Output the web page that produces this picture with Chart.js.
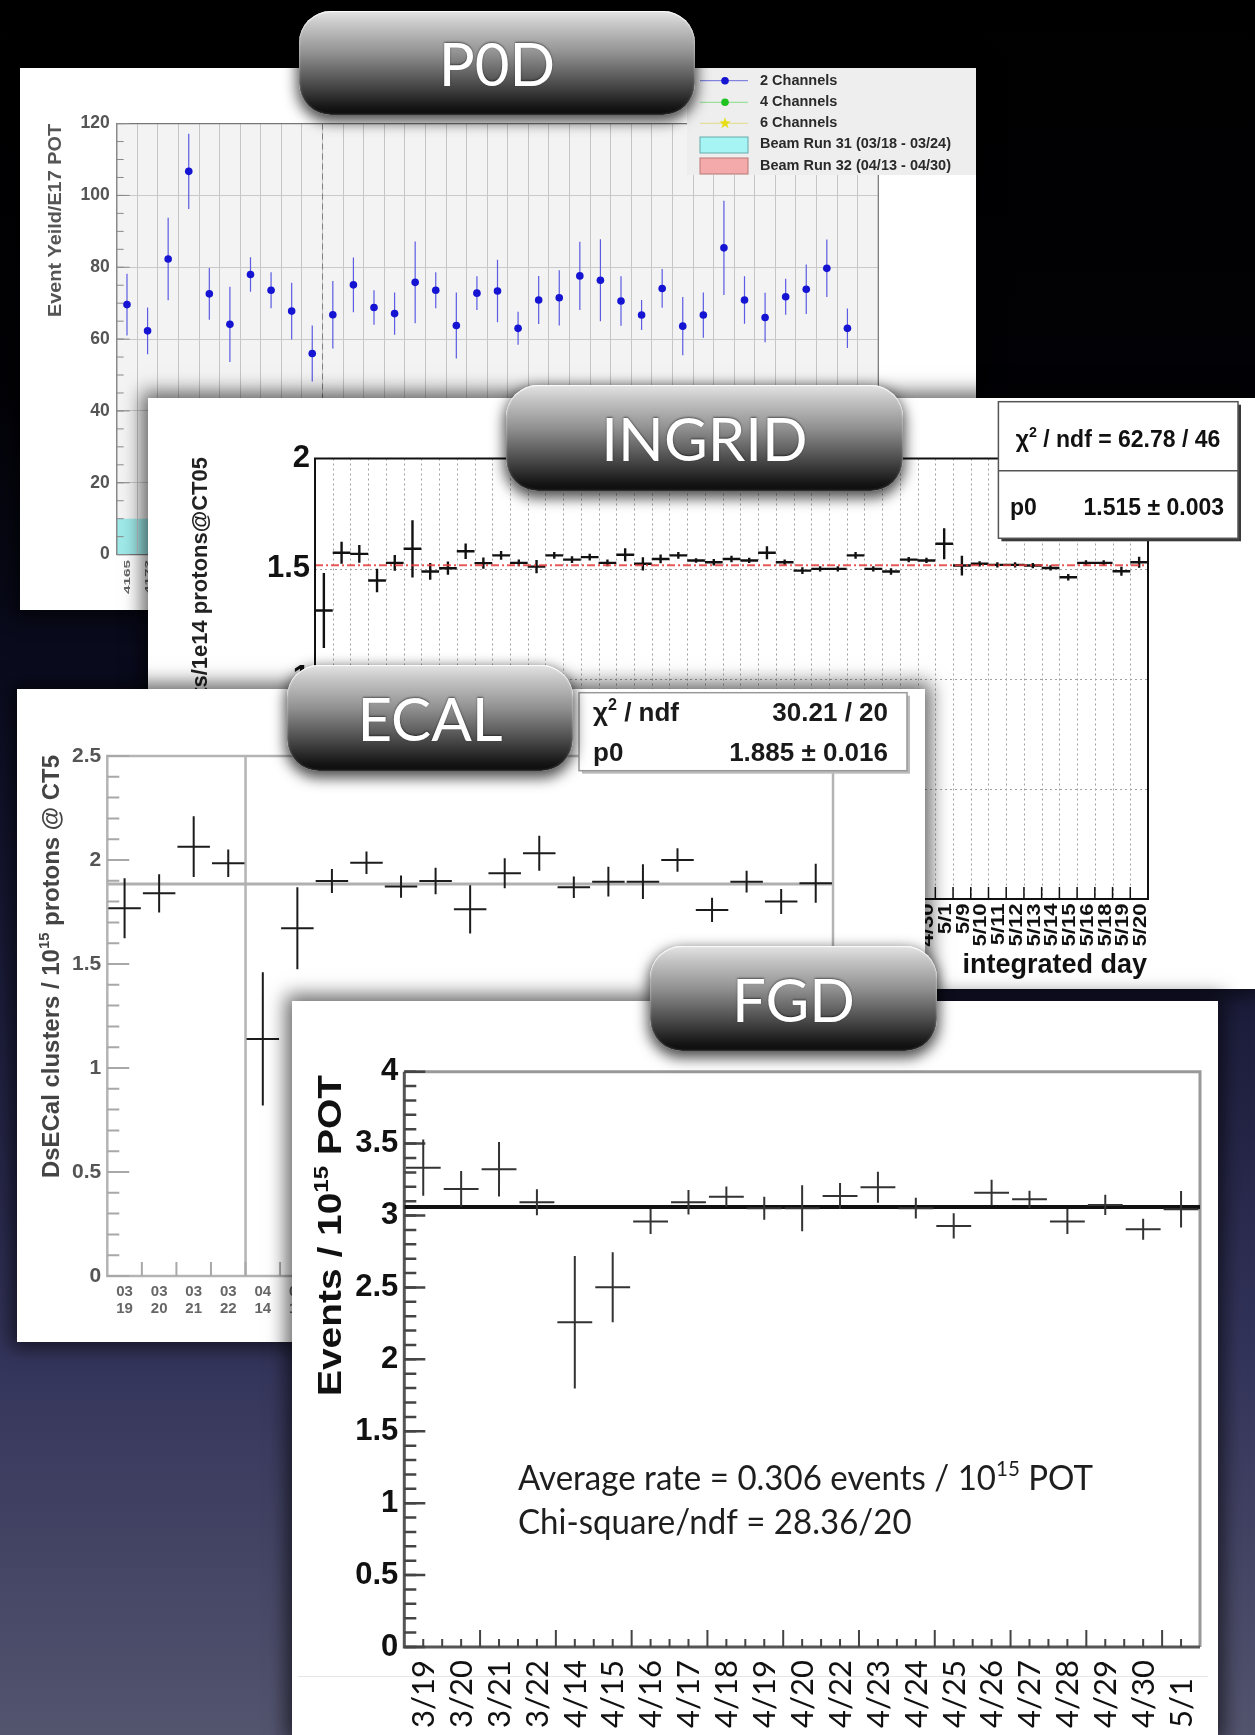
<!DOCTYPE html>
<html lang="en">
<head>
<meta charset="utf-8">
<title>Beam stability: P0D, INGRID, ECAL, FGD</title>
<script src="https://cdn.jsdelivr.net/npm/chart.js@4.4.1/dist/chart.umd.min.js"></script>
<style>
  html, body { margin: 0; padding: 0; }
  body {
    position: relative; width: 1255px; height: 1735px; overflow: hidden;
    background: linear-gradient(180deg, #000000 0%, #020206 22%, #0b0c20 40%, #1c1d3b 58%, #33345a 78%, #53546e 100%);
  }
  .panel { position: absolute; background: #ffffff; box-shadow: 0 0 18px 6px rgba(0, 0, 0, 0.6); }
  .panel canvas { position: absolute; left: 0; top: 0; }
  .pill {
    position: absolute; box-sizing: border-box; border-radius: 32px;
    background: linear-gradient(180deg, #e4e4e4 0%, #c4c4c4 14%, #929292 40%, #4c4c4c 70%, #171717 92%, #0a0a0a 100%);
    box-shadow: 0 5px 14px 2px rgba(0, 0, 0, 0.7), inset 0 1px 1px rgba(255, 255, 255, 0.9), inset 0 0 3px rgba(255, 255, 255, 0.4);
    color: #ffffff; font-family: Lato, "Open Sans", sans-serif; font-size: 60px; line-height: 1;
    display: flex; align-items: center; justify-content: center;
    text-shadow: 0 -1px 2px rgba(0, 0, 0, 0.5);
  }
</style>
</head>
<body>
<div class="panel" style="left:20px;top:68px;width:956px;height:542px"><canvas id="p0d" width="956" height="542"></canvas></div>
<div class="pill" style="left:299px;top:11px;width:396px;height:104px">P0D</div>
<div class="panel" style="left:148px;top:398px;width:1107px;height:591px"><canvas id="ingrid" width="1107" height="591"></canvas></div>
<div class="pill" style="left:506px;top:385px;width:397px;height:106px">INGRID</div>
<div class="panel" style="left:17px;top:689px;width:908px;height:653px"><canvas id="ecal" width="908" height="653"></canvas></div>
<div class="pill" style="left:287px;top:665px;width:286px;height:106px">ECAL</div>
<div class="panel" style="left:292px;top:1001px;width:926px;height:734px"><canvas id="fgd" width="926" height="734"></canvas></div>
<div class="pill" style="left:650px;top:946px;width:287px;height:105px">FGD</div>

<script>
const SANS = '"Liberation Sans", Arial, Helvetica, sans-serif';
const HUMANIST = 'Lato, "Open Sans", sans-serif';

/* ---------- P0D: event yield per run (2-channel selection) ---------- */
const p0dValues = [69.6, 62.3, 82.3, 106.7, 72.6, 64.1, 78.0, 73.6, 67.8, 56.0,
                   66.8, 75.1, 68.8, 67.1, 75.8, 73.6, 63.8, 72.8, 73.4, 63.0,
                   70.9, 71.5, 77.6, 76.4, 70.6, 66.7, 74.1, 63.6, 66.7, 85.4,
                   70.9, 66.0, 71.8, 73.9, 79.7, 63.0];
const p0dErrors = [8.6, 6.5, 11.5, 10.5, 7.2, 10.5, 4.8, 5.0, 7.9, 7.8,
                   9.4, 7.6, 4.8, 5.9, 11.4, 5.0, 9.2, 4.7, 8.7, 4.6,
                   6.7, 7.7, 9.5, 11.4, 6.9, 4.2, 5.4, 8.1, 6.3, 13.1,
                   6.6, 6.9, 5.0, 6.9, 8.0, 5.5];
const p0dRunLabels = ['4165', '4173'];
const p0dBinCount = 37;
const p0dRun31 = [0, 10];
const p0dRun32 = [10, 36];
const p0dBandTop = 10;
const p0dLegendLabels = ['2 Channels', '4 Channels', '6 Channels',
                         'Beam Run 31 (03/18 - 03/24)', 'Beam Run 32 (04/13 - 04/30)'];

/* ---------- INGRID: events per 1e14 protons, per day ---------- */
const ingridDays = ['3/18', '3/19', '3/20', '3/21', '3/22', '3/23', '3/24',
  '4/3', '4/4', '4/5', '4/6', '4/7', '4/8', '4/9', '4/10', '4/11', '4/12', '4/13', '4/14',
  '4/15', '4/16', '4/17', '4/18', '4/19', '4/20', '4/21', '4/22', '4/23', '4/24', '4/25',
  '4/26', '4/27', '4/28', '4/29', '4/30', '5/1', '5/9', '5/10', '5/11', '5/12', '5/13',
  '5/14', '5/15', '5/16', '5/18', '5/19', '5/20'];
const ingridValues = [1.31, 1.572, 1.567, 1.446, 1.526, 1.590, 1.487, 1.502, 1.579, 1.525,
                      1.560, 1.526, 1.509, 1.560, 1.541, 1.552, 1.526, 1.563, 1.522, 1.544,
                      1.560, 1.537, 1.529, 1.544, 1.537, 1.572, 1.529, 1.491, 1.499, 1.499,
                      1.560, 1.499, 1.487, 1.541, 1.537, 1.613, 1.514, 1.522, 1.517, 1.517,
                      1.514, 1.503, 1.461, 1.526, 1.526, 1.488, 1.529];
const ingridErrors = [0.17, 0.05, 0.04, 0.053, 0.036, 0.13, 0.038, 0.03, 0.035, 0.025,
                      0.02, 0.015, 0.03, 0.015, 0.015, 0.015, 0.015, 0.03, 0.03, 0.02,
                      0.015, 0.01, 0.015, 0.015, 0.012, 0.03, 0.012, 0.015, 0.012, 0.012,
                      0.015, 0.012, 0.015, 0.012, 0.012, 0.07, 0.045, 0.012, 0.012, 0.012,
                      0.012, 0.012, 0.015, 0.012, 0.012, 0.02, 0.025];
const ingridFit = 1.515;
const ingridFitError = 0.003;
const ingridChi2 = '62.78 / 46';

/* ---------- Downstream ECAL: clusters per 1e15 protons ---------- */
const ecalDays = ['03/19', '03/20', '03/21', '03/22', '04/14', '04/15', '04/16', '04/17',
                  '04/18', '04/19', '04/20', '04/22', '04/23', '04/24', '04/25', '04/26',
                  '04/27', '04/28', '04/29', '04/30', '05/01'];
const ecalValues = [1.768, 1.840, 2.064, 1.984, 1.14, 1.672, 1.899, 1.987, 1.872, 1.899,
                    1.763, 1.936, 2.032, 1.869, 1.896, 1.896, 2.000, 1.760, 1.896, 1.800, 1.888];
const ecalErrors = [0.144, 0.092, 0.146, 0.066, 0.32, 0.197, 0.058, 0.054, 0.054, 0.064,
                    0.116, 0.072, 0.084, 0.052, 0.072, 0.084, 0.056, 0.058, 0.052, 0.06, 0.094];
const ecalRunBreak = 4;
const ecalFit = 1.885;
const ecalFitError = 0.016;
const ecalChi2 = '30.21 / 20';

/* ---------- FGD: events per 1e15 POT ---------- */
const fgdDays = ['3/19', '3/20', '3/21', '3/22', '4/14', '4/15', '4/16', '4/17', '4/18', '4/19',
                 '4/20', '4/22', '4/23', '4/24', '4/25', '4/26', '4/27', '4/28', '4/29', '4/30', '5/1'];
const fgdValues = [3.333, 3.185, 3.322, 3.092, 2.258, 2.501, 2.958, 3.092, 3.131, 3.051,
                   3.05, 3.136, 3.197, 3.051, 2.928, 3.159, 3.113, 2.958, 3.074, 2.905, 3.044];
const fgdErrors = [0.195, 0.124, 0.19, 0.09, 0.46, 0.243, 0.087, 0.085, 0.07, 0.08,
                   0.16, 0.09, 0.108, 0.072, 0.087, 0.09, 0.06, 0.087, 0.07, 0.073, 0.127];
const fgdAverageRate = 0.306;
const fgdChi2 = '28.36/20';

/* ---------- drawing helpers ---------- */
// Draws a run of text pieces (with optional superscripts). Anchor is the baseline point;
// rotate=true turns the text to read bottom-to-top. length stretches the text along its direction.
function richDraw(ctx, parts, o) {
  const weight = o.weight || 'normal';
  const items = parts.map(p => {
    const size = p.sup ? o.size * 0.62 : o.size;
    ctx.font = `${weight} ${size}px ${o.family}`;
    return { t: p.t, sup: !!p.sup, size, w: ctx.measureText(p.t).width };
  });
  const natural = items.reduce((s, it) => s + it.w, 0);
  const sx = o.length ? o.length / natural : (o.stretch || 1);
  const shown = natural * sx;
  const start = o.align === 'center' ? -shown / 2 : o.align === 'right' ? -shown : 0;
  ctx.save();
  ctx.translate(o.x, o.y);
  if (o.rotate) ctx.rotate(-Math.PI / 2);
  ctx.translate(start, 0);
  ctx.scale(sx, 1);
  ctx.fillStyle = o.color;
  ctx.textAlign = 'left';
  ctx.textBaseline = 'alphabetic';
  let cx = 0;
  items.forEach(it => {
    ctx.font = `${weight} ${it.size}px ${o.family}`;
    ctx.fillText(it.t, cx, it.sup ? -o.size * 0.4 : 0);
    cx += it.w;
  });
  ctx.restore();
  return sx;
}

// Error crosses for dataset dsIndex: vertical bar = +-error, horizontal bar = bin width.
function crosses(chart, dsIndex, errors, halfBin, color, width) {
  const { ctx, scales: { x, y } } = chart;
  const meta = chart.getDatasetMeta(dsIndex);
  const raw = chart.data.datasets[dsIndex].data;
  ctx.save();
  ctx.strokeStyle = color;
  ctx.lineWidth = width;
  ctx.beginPath();
  meta.data.forEach((pt, i) => {
    const d = raw[i];
    if (halfBin) {
      ctx.moveTo(x.getPixelForValue(d.x - halfBin), pt.y);
      ctx.lineTo(x.getPixelForValue(d.x + halfBin), pt.y);
    }
    ctx.moveTo(pt.x, y.getPixelForValue(d.y + errors[i]));
    ctx.lineTo(pt.x, y.getPixelForValue(d.y - errors[i]));
  });
  ctx.stroke();
  ctx.restore();
}

function yTickMarks(chart, step, len, color, width) {
  const { ctx, chartArea: a, scales: { y } } = chart;
  const n = Math.round((y.max - y.min) / step);
  ctx.save();
  ctx.strokeStyle = color; ctx.lineWidth = width;
  ctx.beginPath();
  for (let k = 0; k <= n; k++) {
    const p = y.getPixelForValue(y.min + k * step);
    ctx.moveTo(a.left, p); ctx.lineTo(a.left + len, p);
  }
  ctx.stroke(); ctx.restore();
}

function xTickMarks(chart, step, lenOf, color, width) {
  const { ctx, chartArea: a, scales: { x } } = chart;
  const n = Math.round((x.max - x.min) / step);
  ctx.save();
  ctx.strokeStyle = color; ctx.lineWidth = width;
  ctx.beginPath();
  for (let k = 1; k < n; k++) {
    const p = x.getPixelForValue(x.min + k * step);
    ctx.moveTo(p, a.bottom); ctx.lineTo(p, a.bottom - lenOf(k));
  }
  ctx.stroke(); ctx.restore();
}

function strokeFrame(ctx, a, color, width) {
  ctx.save();
  ctx.strokeStyle = color; ctx.lineWidth = width;
  ctx.strokeRect(a.left, a.top, a.right - a.left, a.bottom - a.top);
  ctx.restore();
}

function statsBox(ctx, x, y, w, h, border, shadow) {
  ctx.save();
  ctx.fillStyle = shadow; ctx.fillRect(x + 3, y + 3, w, h);
  ctx.fillStyle = '#ffffff'; ctx.fillRect(x, y, w, h);
  ctx.strokeStyle = border; ctx.lineWidth = 1.5; ctx.strokeRect(x, y, w, h);
  ctx.restore();
}

function star(ctx, cx, cy, R, r) {
  ctx.beginPath();
  for (let k = 0; k < 10; k++) {
    const ang = -Math.PI / 2 + k * Math.PI / 5;
    const rr = k % 2 ? r : R;
    ctx.lineTo(cx + rr * Math.cos(ang), cy + rr * Math.sin(ang));
  }
  ctx.closePath(); ctx.fill();
}

// Axis numbers as ROOT prints them: "2", "1.5", "0.5" (no padded decimals).
const plainNumber = v => String(Math.round(v * 100) / 100);

const points = values => values.map((v, i) => ({ x: i + 0.5, y: v }));
const baseOptions = padding => ({
  responsive: false, animation: false, devicePixelRatio: 1, events: [],
  layout: { padding },
  plugins: { legend: { display: false }, tooltip: { enabled: false } }
});
const hiddenX = (n, height) => ({
  type: 'linear', min: 0, max: n,
  ticks: { display: false }, grid: { display: false }, border: { display: false },
  afterFit(s) { s.height = height; }
});

/* ---------- P0D ---------- */
const p0dDecor = {
  id: 'p0dDecor',
  beforeDraw(chart) {
    const { ctx, chartArea: a, scales: { x, y } } = chart;
    ctx.save();
    ctx.fillStyle = '#f3f3f3';
    ctx.fillRect(a.left, a.top, a.right - a.left, a.bottom - a.top);
    const band = (bins, color) => {
      const x0 = x.getPixelForValue(bins[0]), x1 = x.getPixelForValue(bins[1]);
      const y0 = y.getPixelForValue(0), y1 = y.getPixelForValue(p0dBandTop);
      ctx.fillStyle = color; ctx.fillRect(x0, y1, x1 - x0, y0 - y1);
    };
    band(p0dRun31, '#9fe9e9');
    band(p0dRun32, '#f3abab');
    ctx.restore();
  },
  beforeDatasetsDraw(chart) {
    const { ctx, chartArea: a, scales: { x } } = chart;
    ctx.save();
    ctx.strokeStyle = '#808080'; ctx.lineWidth = 1; ctx.setLineDash([6, 4]);
    const xd = x.getPixelForValue(p0dRun31[1]);
    ctx.beginPath(); ctx.moveTo(xd, a.top); ctx.lineTo(xd, a.bottom); ctx.stroke();
    ctx.setLineDash([]);
    ctx.strokeStyle = '#777777'; ctx.lineWidth = 1.2;
    ctx.beginPath();
    ctx.moveTo(a.left, a.top); ctx.lineTo(a.right, a.top);
    ctx.lineTo(a.right, a.bottom); ctx.lineTo(a.left, a.bottom);
    ctx.stroke();
    ctx.restore();
    yTickMarks(chart, 5, 7, '#8a8a8a', 1);
    yTickMarks(chart, 20, 13, '#8a8a8a', 1);
    crosses(chart, 0, p0dErrors, 0, '#5b5be4', 1.2);
  },
  afterDraw(chart) {
    const { ctx, scales: { x } } = chart;
    ctx.save();
    ctx.fillStyle = '#eeeeee';
    ctx.fillRect(667, 0, 289, 107);
    const rows = [12.7, 34.3, 55.3, 76.3, 98];
    const lineCols = ['#6b6bdc', '#86dc86', '#e2dc86'];
    const markCols = ['#1414d2', '#1fc21f', '#e6df17'];
    for (let i = 0; i < 3; i++) {
      ctx.strokeStyle = lineCols[i]; ctx.lineWidth = 1;
      ctx.beginPath(); ctx.moveTo(680, rows[i]); ctx.lineTo(728, rows[i]); ctx.stroke();
      ctx.fillStyle = markCols[i];
      if (i < 2) { ctx.beginPath(); ctx.arc(705, rows[i], 3.8, 0, Math.PI * 2); ctx.fill(); }
      else star(ctx, 705, rows[i], 6, 2.4);
    }
    ctx.fillStyle = '#a6f4f4'; ctx.fillRect(680, 69, 48, 16);
    ctx.strokeStyle = '#66aaaa'; ctx.lineWidth = 1; ctx.strokeRect(680, 69, 48, 16);
    ctx.fillStyle = '#f4aaaa'; ctx.fillRect(680, 90, 48, 16);
    ctx.strokeStyle = '#bb7777'; ctx.strokeRect(680, 90, 48, 16);
    ctx.fillStyle = '#2a2a2a';
    ctx.font = `bold 14.5px ${SANS}`;
    ctx.textBaseline = 'middle';
    p0dLegendLabels.forEach((t, i) => ctx.fillText(t, 740, rows[i]));
    ctx.restore();

    richDraw(ctx, [{ t: 'Event Yeild/E17 POT' }],
      { x: 34 + 19 * 0.36, y: 56, size: 19, weight: 'bold', family: SANS, color: '#555555',
        align: 'right', rotate: true, length: 193 });
    p0dRunLabels.forEach((lab, i) => {
      richDraw(ctx, [{ t: lab }],
        { x: x.getPixelForValue(i + 0.5) + 9 * 0.36, y: 492, size: 9, weight: 'bold', family: SANS,
          color: '#666666', align: 'right', rotate: true, length: 34 });
    });
  }
};

new Chart(document.getElementById('p0d'), {
  type: 'scatter',
  data: {
    datasets: [{
      data: points(p0dValues), pointRadius: 3.8, pointBackgroundColor: '#1414d2',
      pointBorderWidth: 0, showLine: false
    }]
  },
  options: Object.assign(baseOptions({ left: 0, top: 55.6, right: 97.7, bottom: 15.4 }), {
    scales: {
      x: {
        type: 'linear', min: 0, max: p0dBinCount,
        ticks: { display: false, stepSize: 1, autoSkip: false },
        grid: { display: true, color: '#c6c6c6', lineWidth: 1, drawTicks: false },
        border: { display: false },
        afterFit(s) { s.height = 40; }
      },
      y: {
        type: 'linear', min: 0, max: 120,
        ticks: { stepSize: 20, font: { family: SANS, size: 17.5, weight: 'bold' }, color: '#555555', padding: 7,
                 callback: plainNumber },
        grid: { color: '#c9c9c9', drawTicks: false },
        border: { display: true, color: '#8a8a8a', width: 1.5 },
        afterFit(s) { s.width = 96.7; }
      }
    }
  }),
  plugins: [p0dDecor]
});

/* ---------- INGRID ---------- */
const ingridDecor = {
  id: 'ingridDecor',
  beforeDatasetsDraw(chart) {
    const { ctx, chartArea: a, scales: { x, y } } = chart;
    ctx.save();
    ctx.strokeStyle = '#a0a0a0'; ctx.lineWidth = 1; ctx.setLineDash([2, 3]);
    ctx.beginPath();
    for (let k = 1; k < ingridDays.length; k++) {
      const p = Math.round(x.getPixelForValue(k)) + 0.5;
      ctx.moveTo(p, a.top); ctx.lineTo(p, a.bottom);
    }
    y.ticks.forEach(t => {
      if (t.value <= y.min || t.value >= y.max) return;
      const p = Math.round(y.getPixelForValue(t.value)) + 0.5;
      ctx.moveTo(a.left, p); ctx.lineTo(a.right, p);
    });
    ctx.stroke();
    ctx.restore();
    crosses(chart, 0, ingridErrors, 0.5, '#111111', 2.4);
  },
  afterDatasetsDraw(chart) {
    strokeFrame(chart.ctx, chart.chartArea, '#111111', 2);
    xTickMarks(chart, 1, () => 12, '#111111', 1.5);
  },
  afterDraw(chart) {
    const { ctx, scales: { x } } = chart;
    ctx.save();
    ctx.font = `bold 19px ${SANS}`;
    const sx = 43 / ctx.measureText('5/10').width;
    ctx.restore();
    ingridDays.forEach((d, i) => {
      richDraw(ctx, [{ t: d }], { x: x.getPixelForValue(i + 0.5) + 19 * 0.36, y: 505.5, size: 19,
        weight: 'bold', family: SANS, color: '#111111', align: 'right', rotate: true, stretch: sx });
    });
    richDraw(ctx, [{ t: 'integrated day' }], { x: 999, y: 575.3, size: 27, weight: 'bold',
      family: SANS, color: '#111111', align: 'right' });

    statsBox(ctx, 850.4, 3.7, 239.6, 136.6, '#555555', '#3a3a3a');
    ctx.save();
    ctx.strokeStyle = '#555555'; ctx.lineWidth = 1.5;
    ctx.beginPath(); ctx.moveTo(850.4, 72.7); ctx.lineTo(1090, 72.7); ctx.stroke();
    ctx.restore();
    richDraw(ctx, [{ t: 'χ' }, { t: '2', sup: true }, { t: ' / ndf = ' + ingridChi2 }],
      { x: 970, y: 48.6, size: 23, weight: 'bold', family: SANS, color: '#111111', align: 'center' });
    richDraw(ctx, [{ t: 'p0' }], { x: 862, y: 117, size: 23, weight: 'bold', family: SANS, color: '#111111' });
    richDraw(ctx, [{ t: ingridFit.toFixed(3) + ' ± ' + ingridFitError.toFixed(3) }],
      { x: 1076, y: 117, size: 23, weight: 'bold', family: SANS, color: '#111111', align: 'right' });

    richDraw(ctx, [{ t: 'Events/1e14 protons@CT05' }], { x: 51 + 22 * 0.36, y: 59, size: 22,
      weight: 'bold', family: SANS, color: '#222222', align: 'right', rotate: true });
  }
};

new Chart(document.getElementById('ingrid'), {
  type: 'scatter',
  data: {
    datasets: [
      { data: points(ingridValues), pointRadius: 0, showLine: false },
      { data: [{ x: 0, y: ingridFit }, { x: ingridDays.length, y: ingridFit }], showLine: true,
        borderColor: 'rgba(226, 60, 60, 0.85)', borderWidth: 2, borderDash: [8, 3, 2, 3], pointRadius: 0 }
    ]
  },
  options: Object.assign(baseOptions({ left: 0, top: 60.5, right: 107, bottom: 30 }), {
    scales: {
      x: hiddenX(ingridDays.length, 60),
      y: {
        type: 'linear', min: 0, max: 2,
        ticks: { stepSize: 0.5, font: { family: SANS, size: 31, weight: 'bold' }, color: '#111111', padding: 5,
                 callback: plainNumber },
        grid: { display: false, drawTicks: false },
        border: { display: false },
        afterFit(s) { s.width = 167; }
      }
    }
  }),
  plugins: [ingridDecor]
});

/* ---------- ECAL ---------- */
const ecalDecor = {
  id: 'ecalDecor',
  beforeDatasetsDraw(chart) {
    const { ctx, chartArea: a, scales: { x } } = chart;
    ctx.save();
    ctx.strokeStyle = '#b4b4b4'; ctx.lineWidth = 2.5;
    const xd = x.getPixelForValue(ecalRunBreak);
    ctx.beginPath(); ctx.moveTo(xd, a.top); ctx.lineTo(xd, a.bottom); ctx.stroke();
    ctx.restore();
    strokeFrame(ctx, a, '#b4b4b4', 2.5);
    yTickMarks(chart, 0.1, 12, '#a8a8a8', 2);
    yTickMarks(chart, 0.5, 22, '#a8a8a8', 2);
    xTickMarks(chart, 1, () => 14, '#a8a8a8', 2);
  },
  afterDatasetsDraw(chart) {
    crosses(chart, 0, ecalErrors, 0.47, '#1c1c1c', 2);
  },
  afterDraw(chart) {
    const { ctx } = chart;
    statsBox(ctx, 562, 3.7, 328, 78, '#999999', '#bbbbbb');
    const f = { size: 26, weight: 'bold', family: SANS, color: '#1a1a1a' };
    richDraw(ctx, [{ t: 'χ' }, { t: '2', sup: true }, { t: ' / ndf' }], Object.assign({ x: 576, y: 31.5 }, f));
    richDraw(ctx, [{ t: ecalChi2 }], Object.assign({ x: 871, y: 31.5, align: 'right' }, f));
    richDraw(ctx, [{ t: 'p0' }], Object.assign({ x: 576, y: 71.5 }, f));
    richDraw(ctx, [{ t: ecalFit.toFixed(3) + ' ± ' + ecalFitError.toFixed(3) }],
      Object.assign({ x: 871, y: 71.5, align: 'right' }, f));
    richDraw(ctx, [{ t: 'DsECal clusters / 10' }, { t: '15', sup: true }, { t: ' protons @ CT5' }],
      { x: 33 + 24 * 0.36, y: 66, size: 24, weight: 'bold', family: SANS, color: '#444444',
        align: 'right', rotate: true, length: 423 });
  }
};

new Chart(document.getElementById('ecal'), {
  type: 'scatter',
  data: {
    datasets: [
      { data: points(ecalValues), pointRadius: 0, showLine: false },
      { data: [{ x: 0, y: ecalFit }, { x: ecalDays.length, y: ecalFit }], showLine: true,
        borderColor: '#b0b0b0', borderWidth: 3, pointRadius: 0 }
    ]
  },
  options: Object.assign(baseOptions({ left: 0, top: 67, right: 92, bottom: 16 }), {
    scales: {
      x: {
        type: 'linear', min: 0, max: ecalDays.length,
        afterBuildTicks(s) { s.ticks = ecalDays.map((d, i) => ({ value: i + 0.5 })); },
        ticks: {
          display: true, autoSkip: false, maxRotation: 0, minRotation: 0, padding: 8,
          font: { family: SANS, size: 15, weight: 'bold', lineHeight: 1.1 }, color: '#666666',
          callback: (v, i) => ecalDays[i].split('/')
        },
        grid: { display: false, drawTicks: false },
        border: { display: false },
        afterFit(s) { s.height = 50; }
      },
      y: {
        type: 'linear', min: 0, max: 2.5,
        ticks: { stepSize: 0.5, font: { family: SANS, size: 21, weight: 'bold' }, color: '#555555', padding: 6,
                 callback: plainNumber },
        grid: { display: false, drawTicks: false },
        border: { display: false },
        afterFit(s) { s.width = 90.3; }
      }
    }
  }),
  plugins: [ecalDecor]
});

/* ---------- FGD ---------- */
const fgdDecor = {
  id: 'fgdDecor',
  beforeDatasetsDraw(chart) {
    const { ctx, chartArea: a } = chart;
    ctx.save();
    ctx.strokeStyle = '#999999'; ctx.lineWidth = 3;
    ctx.beginPath(); ctx.moveTo(a.left, a.top); ctx.lineTo(a.right, a.top); ctx.lineTo(a.right, a.bottom); ctx.stroke();
    ctx.strokeStyle = '#555555';
    ctx.beginPath(); ctx.moveTo(a.left, a.top); ctx.lineTo(a.left, a.bottom); ctx.lineTo(a.right, a.bottom); ctx.stroke();
    ctx.restore();
    yTickMarks(chart, 0.1, 12, '#444444', 2.5);
    yTickMarks(chart, 0.5, 21, '#444444', 2.5);
    xTickMarks(chart, 0.5, k => (k % 4 === 0 ? 17 : 8), '#444444', 2);
  },
  afterDatasetsDraw(chart) {
    crosses(chart, 0, fgdErrors, 0.46, '#333333', 2);
  },
  afterDraw(chart) {
    const { ctx, scales: { x } } = chart;
    ctx.save();
    ctx.strokeStyle = '#e6e6e6'; ctx.lineWidth = 1;
    ctx.beginPath(); ctx.moveTo(6, 675.5); ctx.lineTo(916, 675.5); ctx.stroke();
    ctx.restore();

    ctx.save();
    ctx.font = `30px ${HUMANIST}`;
    const sx = 68 / ctx.measureText(fgdDays[0]).width;
    ctx.restore();
    fgdDays.forEach((d, i) => {
      richDraw(ctx, [{ t: d }], { x: x.getPixelForValue(i + 0.5) + 30 * 0.36, y: 727, size: 30,
        family: HUMANIST, color: '#111111', align: 'left', rotate: true, stretch: sx });
    });

    const tx = richDraw(ctx,
      [{ t: 'Average rate = ' + fgdAverageRate.toFixed(3) + ' events / 10' }, { t: '15', sup: true }, { t: ' POT' }],
      { x: 226, y: 489, size: 34, family: HUMANIST, color: '#1e1e1e', length: 575 });
    richDraw(ctx, [{ t: 'Chi-square/ndf = ' + fgdChi2 }],
      { x: 226, y: 533, size: 34, family: HUMANIST, color: '#1e1e1e', stretch: tx });

    richDraw(ctx, [{ t: 'Events / 10' }, { t: '15', sup: true }, { t: ' POT' }],
      { x: 37 + 34 * 0.36, y: 74, size: 34, weight: 'bold', family: SANS, color: '#111111',
        align: 'right', rotate: true, length: 321 });
  }
};

new Chart(document.getElementById('fgd'), {
  type: 'scatter',
  data: {
    datasets: [
      { data: points(fgdValues), pointRadius: 0, showLine: false },
      { data: [{ x: 0, y: fgdAverageRate * 10 }, { x: fgdDays.length, y: fgdAverageRate * 10 }], showLine: true,
        borderColor: '#111111', borderWidth: 4, pointRadius: 0 }
    ]
  },
  options: Object.assign(baseOptions({ left: 0, top: 70.7, right: 18, bottom: 28 }), {
    scales: {
      x: hiddenX(fgdDays.length, 60),
      y: {
        type: 'linear', min: 0, max: 4,
        ticks: { stepSize: 0.5, font: { family: SANS, size: 31, weight: 'bold' }, color: '#111111', padding: 6,
                 callback: plainNumber },
        grid: { display: false, drawTicks: false },
        border: { display: false },
        afterFit(s) { s.width = 112.3; }
      }
    }
  }),
  plugins: [fgdDecor]
});
</script>
</body>
</html>
